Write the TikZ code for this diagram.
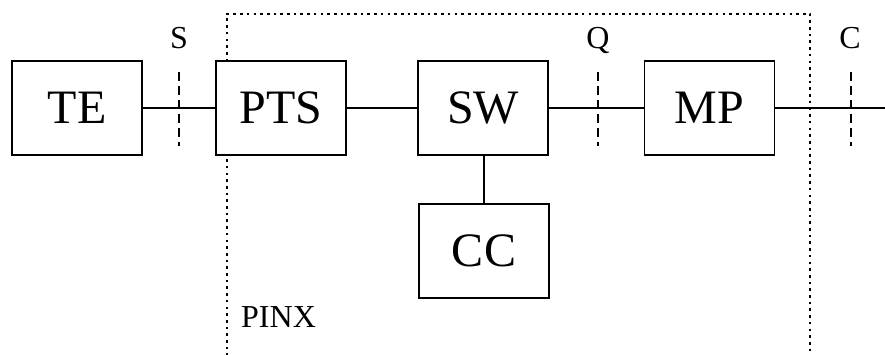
\documentclass[tikz,border=0pt]{standalone}
\usepackage{fontspec}
\setmainfont{Liberation Serif}
\begin{document}
\begin{tikzpicture}[x=1pt,y=-1pt,
  blk/.style={draw,line width=1.8pt,fill=white,minimum width=130pt,minimum height=94pt,inner sep=0pt,font=\fontsize{48}{50}\selectfont},
  wire/.style={line width=1.8pt},
  refpt/.style={line width=1.9pt,dash pattern=on 9pt off 5pt},
  bound/.style={line width=2.6pt,dash pattern=on 2.6pt off 4.1pt},
  lbl/.style={font=\fontsize{32}{34}\selectfont,inner sep=0pt}]
\useasboundingbox (0,0) rectangle (885,354);
% PINX boundary
\draw[bound] (227,356) -- (227,14) -- (810,14) -- (810,356);
% reference points
\coordinate (s1) at (179,72); \coordinate (s2) at (179,146);
\coordinate (q1) at (598,72); \coordinate (q2) at (598,146);
\coordinate (c1) at (851,72); \coordinate (c2) at (851,146);
\draw[refpt] (s1) -- (s2);
\draw[refpt] (q1) -- (q2);
\draw[refpt] (c1) -- (c2);
\node[lbl] (S) at (179,38) {S};
\node[lbl] (Q) at (598,40) {Q};
\node[lbl] (C) at (850,38) {C};
% blocks
\node[blk] (TE) at (77,108) {TE};
\node[blk] (PTS) at (281,108) {PTS};
\node[blk] (SW) at (483,108) {SW};
\node[blk] (MP) at (709.5,108) {MP};
\node[blk] (CC) at (484,251) {CC};
\coordinate (end) at (885,108);
\draw[wire] (TE) -- (PTS);
\draw[wire] (PTS) -- (SW);
\draw[wire] (SW) -- (MP);
\draw[wire] (MP) -- (end);
\draw[wire] (SW.south -| CC.north) -- (CC.north);
\node[lbl,anchor=base west] (PINX) at (241,327) {PINX};
\end{tikzpicture}
\end{document}
